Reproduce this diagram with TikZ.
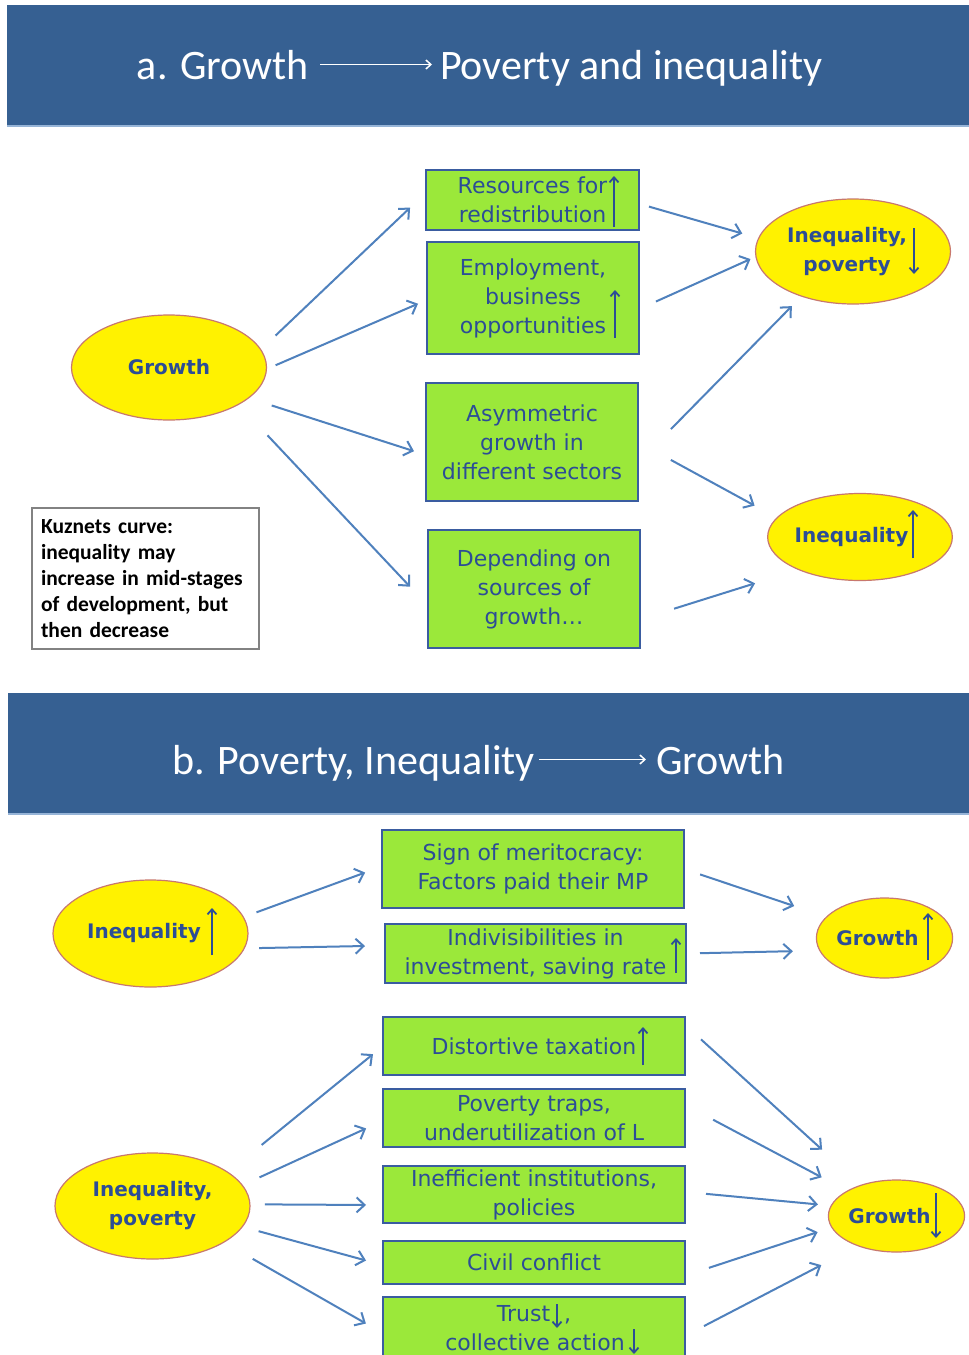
\documentclass[tikz,border=0pt]{standalone}
\usepackage{fontspec}
\setmainfont{DejaVu Sans}
\newfontfamily\carl{Carlito}
\newfontfamily\dvs{DejaVu Sans}
\usetikzlibrary{shapes.geometric,arrows.meta}
\definecolor{hdrblue}{RGB}{54,96,146}
\definecolor{hdrline}{RGB}{150,180,215}
\definecolor{boxgreen}{RGB}{155,232,58}
\definecolor{boxedge}{RGB}{58,92,160}
\definecolor{txtblue}{RGB}{44,77,150}
\definecolor{arrblue}{RGB}{79,129,189}
\definecolor{elledge}{RGB}{200,120,110}
\definecolor{kgray}{RGB}{130,130,130}
\tikzset{
 hdr/.style={rectangle, fill=hdrblue, inner sep=0, outer sep=0},
 ttl/.style={text=white, font=\carl\fontsize{42}{50}\selectfont, inner sep=0, outer sep=0, text height=32pt, text depth=3pt},
 gbox/.style={rectangle, draw=boxedge, line width=2.4pt, fill=boxgreen, inner sep=0, outer sep=0, text=txtblue, font=\dvs\fontsize{22}{29}\selectfont, align=center},
 yel/.style={ellipse, draw=elledge, line width=1.2pt, fill=yellow, inner sep=0, outer sep=0, text=txtblue, font=\dvs\bfseries\fontsize{20}{29}\selectfont, align=center},
 kbox/.style={rectangle, draw=kgray, line width=1.2pt, fill=white, inner sep=0, outer sep=0, text=black, font=\carl\bfseries\fontsize{21.5}{26}\selectfont, align=left},
 arr/.style={draw=arrblue, line width=2pt, -{Straight Barb[length=8pt,width=15pt]}},
 sym/.style={draw=txtblue, line width=1.8pt, -{Straight Barb[length=5pt,width=9pt]}},
 tarr/.style={draw=white, line width=1.5pt, -{Straight Barb[length=5pt,width=9pt]}},
}
\begin{document}
\begin{tikzpicture}[x=1pt,y=-1pt]
\useasboundingbox (0,0) rectangle (969,1355);
\fill[white] (0,0) rectangle (969,1355);

% ---------- header a
\node[hdr, minimum width=962pt, minimum height=121pt] (ha) at (488,65.5) {};
\draw[hdrline, line width=1.5pt] (ha.south west) -- (ha.south east);
\node[ttl, anchor=base east] (ta1) at (309,79) {a. Growth};
\node[ttl, anchor=base west] (ta2) at (440,79) {Poverty and inequality};
\draw[tarr, shorten <=11pt, shorten >=8pt] (ta1.east) -- (ta2.west);

% ---------- part a nodes
\node[yel, minimum width=195pt, minimum height=105pt] (g) at (169,367.5) {Growth};
\node[gbox, minimum width=213pt, minimum height=60pt] (r1) at (532.5,200) {Resources for\\redistribution};
\node[gbox, minimum width=212pt, minimum height=112pt] (r2) at (533,298) {Employment,\\business\\opportunities};
\node[gbox, minimum width=212pt, minimum height=118pt] (r3) at (532,442) {Asymmetric\\growth in\\different sectors};
\node[gbox, minimum width=212pt, minimum height=118pt] (r4) at (534,589) {Depending on\\sources of\\growth\ldots};
\node[yel, minimum width=195pt, minimum height=105pt] (ip) at (853,251.5) {Inequality,\hspace*{12pt}\\poverty\hspace*{12pt}};
\node[yel, minimum width=167pt, minimum height=87pt] (iq) at (860,537) {Inequality\hspace*{17pt}};
\node[kbox, minimum width=227pt, minimum height=141pt, text width=209pt] (k) at (145.5,578.5)
 {Kuznets curve:\\inequality may\\increase in mid-stages\\of development, but\\then decrease};

% symbols part a
\draw[sym] (614,227) -- (614,176);
\draw[sym] (615,338) -- (615,290);
\draw[sym] (914,228) -- (914,274);
\draw[sym] (913,558) -- (913,510);

% arrows part a
\draw[arr, shorten <=20.5pt, shorten >=22pt] (g.11) -- (r1.176);
\draw[arr, shorten <=10pt, shorten >=9.8pt] (g.-1) -- (r2.181);
\draw[arr, shorten <=24.5pt, shorten >=12.6pt] (g.-21) -- (r3.187.6);
\draw[arr, shorten <=42.5pt, shorten >=26.2pt] (g.-28.7) -- (r4.189.7);
\draw[arr, shorten <=10.4pt, shorten >=17pt] (r1.-2.2) -- (ip.172.3);
\draw[arr, shorten <=18.6pt, shorten >=6pt] (r2.-6) -- (ip.183.6);
\draw[arr, shorten <=47pt, shorten >=14pt] (r3.-11.5) -- (ip.221);
\draw[arr, shorten <=37.4pt, shorten >=25.6pt] (r3.-0.2) -- (iq.167.7);
\draw[arr, shorten <=35.7pt, shorten >=45.8pt] (r4.-16.3) -- (iq.208);

% ---------- header b
\node[hdr, minimum width=961pt, minimum height=121pt] (hb) at (488.5,753.5) {};
\draw[hdrline, line width=1.5pt] (hb.south west) -- (hb.south east);
\node[ttl, anchor=base east] (tb1) at (535,774) {b. Poverty, Inequality};
\node[ttl, anchor=base west] (tb2) at (656,774) {Growth};
\draw[tarr, shorten <=4pt, shorten >=10pt] (tb1.east) -- (tb2.west);

% ---------- part b nodes
\node[yel, minimum width=195pt, minimum height=107pt] (yb1) at (150.5,933.5) {Inequality\hspace*{13pt}};
\node[gbox, minimum width=302pt, minimum height=78pt] (s1) at (533,869) {Sign of meritocracy:\\Factors paid their MP};
\node[gbox, minimum width=301pt, minimum height=59pt] (s2) at (535.5,953.5) {Indivisibilities in\\investment, saving rate};
\node[yel, minimum width=129pt, minimum height=80pt] (gu) at (884.5,938) {Growth\hspace*{14pt}};

\node[yel, minimum width=195pt, minimum height=106pt] (ip2) at (152.5,1206) {Inequality,\\poverty};
\node[gbox, minimum width=302pt, minimum height=58pt] (t1) at (534,1046) {Distortive taxation};
\node[gbox, minimum width=302pt, minimum height=58pt] (t2) at (534,1118) {Poverty traps,\\underutilization of L};
\node[gbox, minimum width=302pt, minimum height=57pt] (t3) at (534,1194.5) {Inefficient institutions,\\policies};
\node[gbox, minimum width=302pt, minimum height=43pt] (t4) at (534,1262.5) {Civil conflict};
\node[gbox, minimum width=302pt, minimum height=62pt] (t5) at (534,1328) {Trust\hspace*{14pt},\\\hspace*{16pt}collective action\hspace*{14pt}};
\node[yel, minimum width=131pt, minimum height=72pt] (gd) at (896.5,1216) {Growth\hspace*{14pt}};

% symbols part b
\draw[sym] (212,955) -- (212,908);
\draw[sym] (676,973) -- (676,938);
\draw[sym] (928,960) -- (928,913);
\draw[sym] (643,1065) -- (643,1027);
\draw[sym] (936,1193) -- (936,1238);
\draw[sym] (557,1304) -- (557,1328);
\draw[sym] (634,1329) -- (634,1354);

% arrows part b
\draw[arr, shorten <=14pt, shorten >=18pt] (yb1.10.7) -- (s1.179.4);
\draw[arr, shorten <=15pt, shorten >=20pt] (yb1.-9.4) -- (s2.177.5);
\draw[arr, shorten <=17pt, shorten >=34.2pt] (s1.0.5) -- (gu.160.8);
\draw[arr, shorten <=14pt, shorten >=27pt] (s2.0.8) -- (gu.191);

\draw[arr, shorten <=43.5pt, shorten >=12.9pt] (ip2.24) -- (t1.180.3);
\draw[arr, shorten <=19pt, shorten >=18.6pt] (ip2.13.7) -- (t2.181.3);
\draw[arr, shorten <=15pt, shorten >=17pt] (ip2.1.2) -- (t3.184.4);
\draw[arr, shorten <=17pt, shorten >=17.6pt] (ip2.-13.4) -- (t4.181.2);
\draw[arr, shorten <=33.5pt, shorten >=19.7pt] (ip2.-27.1) -- (t5.182.6);

\draw[arr, shorten <=21.7pt, shorten >=52.8pt] (t1.8.6) -- (gd.139.1);
\draw[arr, shorten <=31.9pt, shorten >=29.2pt] (t2.5.8) -- (gd.153.6);
\draw[arr, shorten <=21.1pt, shorten >=13.4pt] (t3.1.4) -- (gd.171.3);
\draw[arr, shorten <=25.2pt, shorten >=15pt] (t4.-5) -- (gd.190.5);
\draw[arr, shorten <=21.4pt, shorten >=41.8pt] (t5.-3.4) -- (gd.218.8);
\end{tikzpicture}
\end{document}
